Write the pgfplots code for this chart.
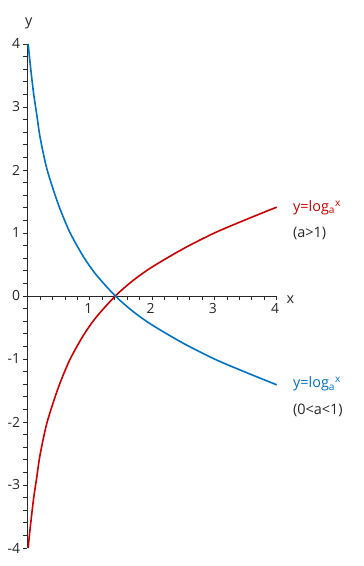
\documentclass[border=0pt]{standalone}
\usepackage{pgfplots}
\pgfplotsset{compat=1.18}
\usepackage{fontspec}
\setmainfont{Open Sans}
\definecolor{cred}{RGB}{204,0,0}
\definecolor{cblue}{RGB}{0,114,198}
\definecolor{txt}{RGB}{40,40,40}
\begin{document}
\begin{tikzpicture}
\begin{axis}[
  scale only axis, x=62.3bp, y=63bp,
  xmin=0, xmax=4, ymin=-4, ymax=4,
  axis lines=middle,
  axis line style={txt, line width=0.9bp, -},
  xtick={0,1,2,3,4}, xticklabels={,1,2,3,4},
  ytick={-4,-3,-2,-1,0,1,2,3,4}, yticklabels={-4,-3,-2,-1,0,1,2,3,4},
  hide obscured y ticks=false,
  minor tick num=4,
  tick align=outside,
  major tick length=4bp, minor tick length=4bp,
  tick style={txt, line width=0.7bp},
  tick label style={font=\fontsize{14}{16}\selectfont, text=txt},
  xticklabel style={xshift=-1.5bp},
  clip=false,
]
\addplot[cred, line width=1.6bp, smooth, tension=0.5] coordinates {
(0.01,-4) (0.05,-3.62) (0.1,-3.2) (0.15,-2.87) (0.2,-2.53) (0.3,-2.06) (0.4,-1.73)
(0.5,-1.44) (0.6,-1.19) (0.7,-0.97) (0.9,-0.62) (1.1,-0.34) (1.41,0) (1.7,0.25)
(2.0,0.46) (2.5,0.75) (3.0,1.0) (3.5,1.21) (4.0,1.41)};
\addplot[cblue, line width=1.6bp, smooth, tension=0.5] coordinates {
(0.01,4) (0.05,3.62) (0.1,3.2) (0.15,2.87) (0.2,2.53) (0.3,2.06) (0.4,1.73)
(0.5,1.44) (0.6,1.19) (0.7,0.97) (0.9,0.62) (1.1,0.34) (1.41,0) (1.7,-0.25)
(2.0,-0.46) (2.5,-0.75) (3.0,-1.0) (3.5,-1.21) (4.0,-1.41)};
\node[anchor=west, text=cred, font=\fontsize{14.5}{16}\selectfont, inner sep=0pt] at (axis cs:4.26,1.40) {y=log\textsubscript{a}\textsuperscript{x}};
\node[anchor=west, text=txt, font=\fontsize{14.5}{16}\selectfont, inner sep=0pt] at (axis cs:4.26,1.0) {(a>1)};
\node[anchor=west, text=cblue, font=\fontsize{14.5}{16}\selectfont, inner sep=0pt] at (axis cs:4.26,-1.40) {y=log\textsubscript{a}\textsuperscript{x}};
\node[anchor=west, text=txt, font=\fontsize{14.5}{16}\selectfont, inner sep=0pt] at (axis cs:4.26,-1.81) {(0<a<1)};
\node[text=txt, font=\fontsize{14.5}{16}\selectfont, inner sep=0pt] at (axis cs:0.02,4.33) {y};
\node[text=txt, font=\fontsize{14.5}{16}\selectfont, inner sep=0pt] at (axis cs:4.22,-0.06) {x};
\coordinate (O) at (axis cs:0,-4);
\end{axis}
\pgfresetboundingbox
\path[use as bounding box] ([shift={(-27.5bp,-18bp)}]O) rectangle ([shift={(336.5bp,548bp)}]O);
\end{tikzpicture}
\end{document}
